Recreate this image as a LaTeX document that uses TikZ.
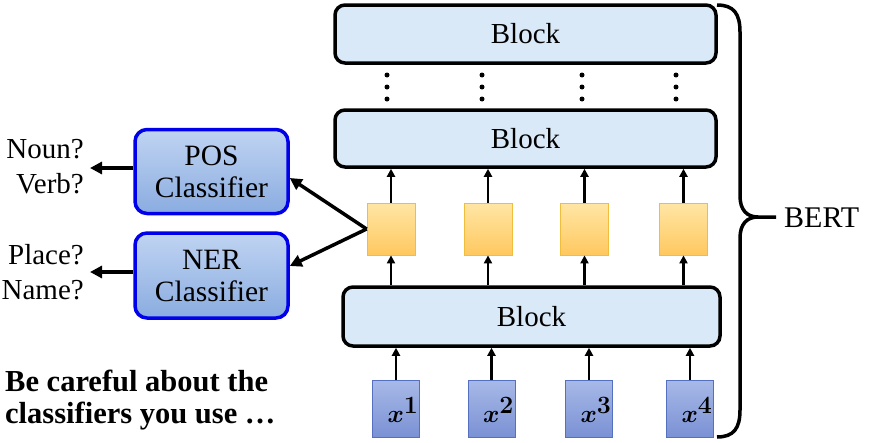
\documentclass[tikz,border=0pt]{standalone}
\usepackage{amsmath}
\usepackage{fontspec}
\setmainfont{Liberation Serif}
\usetikzlibrary{arrows.meta,calc}
\definecolor{blockfill}{RGB}{218,233,247}
\definecolor{clstop}{RGB}{192,212,242}
\definecolor{clsbot}{RGB}{138,172,224}
\definecolor{clsborder}{RGB}{0,0,235}
\definecolor{ytop}{RGB}{255,230,165}
\definecolor{ybot}{RGB}{255,200,95}
\definecolor{yborder}{RGB}{240,190,60}
\definecolor{xtop}{RGB}{168,185,232}
\definecolor{xbot}{RGB}{122,145,212}
\definecolor{xborder}{RGB}{85,112,190}
\begin{document}
\begin{tikzpicture}[x=1pt,y=-1pt,
  font=\fontsize{29}{35}\selectfont,
  blockbox/.style={draw=black, line width=3.5pt, rounded corners=10pt, fill=blockfill, inner sep=0pt, minimum width=#1, minimum height=58pt},
  clsbox/.style={draw=clsborder, line width=3.5pt, rounded corners=12pt, top color=clstop, bottom color=clsbot, inner sep=0pt, minimum width=153pt, minimum height=84pt, align=center, font=\fontsize{29.5}{32}\selectfont},
  ybox/.style={draw=yborder, line width=0.8pt, top color=ytop, bottom color=ybot, inner sep=0pt, minimum width=48pt, minimum height=52pt},
  xbox/.style={draw=xborder, line width=0.8pt, top color=xtop, bottom color=xbot, inner sep=0pt, minimum width=47pt, minimum height=57pt},
  uparrow/.style={line width=2.5pt, -{Triangle[length=8pt,width=8pt]}},
  carrow/.style={line width=3.5pt, -{Triangle[length=12pt,width=12pt]}},
  dotc/.style={circle, fill=black, inner sep=0pt, minimum size=5pt},
  lbl/.style={align=right, font=\fontsize{29}{35}\selectfont, inner sep=0pt}
]
\useasboundingbox (0,0) rectangle (870,442);

% blocks
\node[blockbox=381pt] (tb) at (525.5,34) {Block};
\node[blockbox=381pt, minimum height=57pt] (mb) at (525.5,138.5) {Block};
\node[blockbox=377pt, minimum height=59pt] (bb) at (531.5,316.5) {Block};

% dots
\foreach \cx [count=\i] in {387,482,582,676}{
  \node[dotc] (da\i) at (\cx,75) {};
  \node[dotc] (db\i) at (\cx,87) {};
  \node[dotc] (dc\i) at (\cx,99) {};
}

% yellow boxes
\node[ybox] (y1) at (391,229) {};
\node[ybox] (y2) at (488,229) {};
\node[ybox] (y3) at (584.5,229) {};
\node[ybox] (y4) at (683.5,229) {};

% input boxes
\node[xbox] (x1) at (396,408.5) {};
\node[xbox] (x2) at (491.5,408.5) {};
\node[xbox] (x3) at (589,408.5) {};
\node[xbox] (x4) at (690,408.5) {};
\foreach \i in {1,2,3,4}{
  \node[font=\fontsize{34}{36}\selectfont, inner sep=0pt] (xl\i) at ($(x\i.center)+(7,1)$) {$\boldsymbol{x}^{\boldsymbol{\i}}$};
}

% arrows
\foreach \i in {1,2,3,4}{
  \draw[uparrow] (x\i.north) -- (x\i.north |- bb.south);
  \draw[uparrow] (bb.north -| y\i) -- (y\i.south);
  \draw[uparrow] (y\i.north) -- (y\i.north |- mb.south);
}

% classifiers
\node[clsbox] (pos) at (211.5,171.5) {POS\\Classifier};
\node[clsbox, minimum height=85pt] (ner) at (211.5,275.5) {NER\\Classifier};

\draw[carrow] (y1.west) -- ([yshift=-6.5pt]pos.east);
\draw[carrow] (y1.west) -- ([yshift=9.5pt]ner.east);

\coordinate (posout) at (90,168);
\coordinate (nerout) at (90,272);
\draw[carrow] (pos.west |- posout) -- (posout);
\draw[carrow] (ner.west |- nerout) -- (nerout);

\node[lbl, anchor=east] (posl) at (84,167) {Noun?\\Verb?};
\node[lbl, anchor=east] (nerl) at (84,272) {Place?\\Name?};

% note
\node[align=left, anchor=west, inner sep=0pt, font=\fontsize{30.5}{32}\selectfont\bfseries] (note) at (5,400) {Be careful about the\\classifiers you use \dots};

% brace
\draw[line width=3.5pt] (717,5) .. controls (734,5) and (740,14) .. (740,32) -- (740,196)
  .. controls (740,210) and (747,217) .. (758,217) -- (776,217);
\draw[line width=3.5pt] (758,217) .. controls (747,217) and (740,224) .. (740,238) -- (740,410)
  .. controls (740,428) and (734,437) .. (717,437);
\node[anchor=west, inner sep=0pt, font=\fontsize{30}{35}\selectfont] (bert) at (784,218) {BERT};
\end{tikzpicture}
\end{document}
